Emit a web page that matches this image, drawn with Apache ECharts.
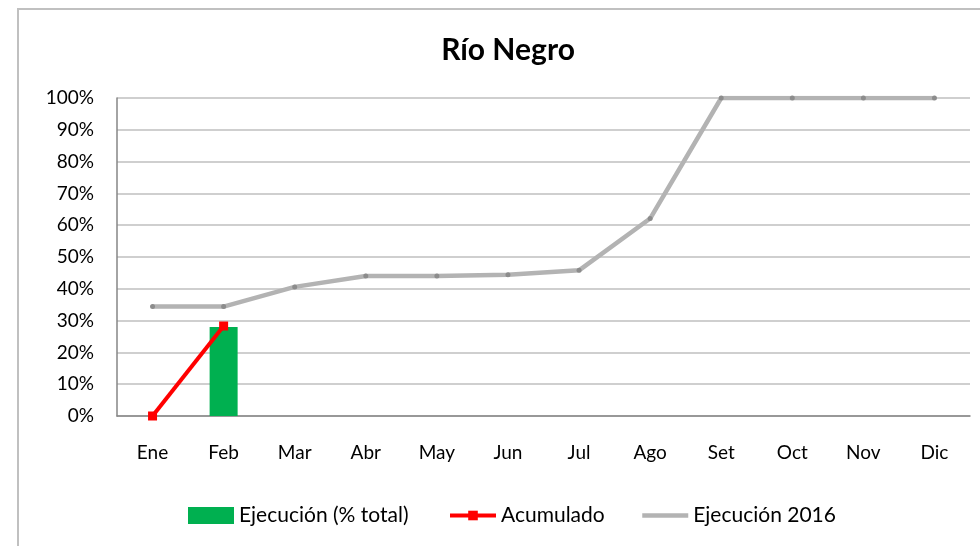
<!DOCTYPE html>
<html>
<head>
<meta charset="utf-8">
<script src="https://cdn.jsdelivr.net/npm/echarts@6/dist/echarts.min.js"></script>
<style>html,body{margin:0;padding:0;background:#fff}#c{width:980px;height:546px}</style>
</head>
<body>
<div id="c"></div>
<script>
var months = ['Ene','Feb','Mar','Abr','May','Jun','Jul','Ago','Set','Oct','Nov','Dic'];
var ejecucion = [null, 28.0, null, null, null, null, null, null, null, null, null, null];
var acumulado = [0, 28.3, null, null, null, null, null, null, null, null, null, null];
var ejecucion2016 = [34.4, 34.4, 40.6, 44.0, 44.0, 44.4, 45.8, 62.1, 100, 100, 100, 100];
var yTicks = [0, 10, 20, 30, 40, 50, 60, 70, 80, 90, 100];

var FONT = 'Lato';
var chart = echarts.init(document.getElementById('c'), null, {renderer: 'canvas'});
var legendText = {fontFamily: FONT, fontSize: 21, color: '#000'};
chart.setOption({
  animation: false,
  graphic: [
    {type: 'rect', shape: {x: 18, y: 9, width: 1000, height: 600}, style: {fill: 'none', stroke: '#c0c0c0', lineWidth: 2}, silent: true},
    {type: 'text', style: {text: 'Río Negro', x: 508, y: 50, textAlign: 'center', textVerticalAlign: 'middle', fontFamily: FONT, fontWeight: 'bold', fontSize: 30, fill: '#000'}}
  ],
  grid: {left: 117, right: 10, top: 98, bottom: 130},
  legend: [
    {data: ['Ejecución (% total)'], left: 188, top: 505, padding: 0, itemWidth: 46, itemHeight: 17, icon: 'rect', textStyle: legendText},
    {data: ['Acumulado'], left: 448, top: 505, padding: 0, itemWidth: 46, itemHeight: 12, lineStyle: {width: 4}, textStyle: legendText},
    {data: [{name: 'Ejecución 2016', itemStyle: {opacity: 0}}], left: 640, top: 505, padding: 0, itemWidth: 46, itemHeight: 12, lineStyle: {width: 4.5}, textStyle: legendText}
  ],
  xAxis: {
    type: 'category', data: months,
    axisLine: {lineStyle: {color: '#868686', width: 1.5}},
    axisTick: {show: false},
    axisLabel: {fontFamily: FONT, fontSize: 19, color: '#000', margin: 27}
  },
  yAxis: {
    type: 'value', min: 0, max: 100, interval: 10,
    axisLine: {show: true, lineStyle: {color: '#868686', width: 1.5}},
    axisTick: {show: false},
    splitLine: {lineStyle: {color: '#bfbfbf', width: 1.5}},
    axisLabel: {fontFamily: FONT, fontSize: 19, color: '#000', margin: 23, formatter: '{value}%'}
  },
  series: [
    {name: 'Ejecución 2016', type: 'line', data: ejecucion2016, z: 2,
     lineStyle: {color: '#b3b3b3', width: 4.5}, itemStyle: {color: '#8c8c8c'},
     symbol: 'circle', symbolSize: 5, showSymbol: true},
    {name: 'Ejecución (% total)', type: 'bar', data: ejecucion, barWidth: 28, z: 3,
     itemStyle: {color: '#00b050'}},
    {name: 'Acumulado', type: 'line', data: acumulado, z: 4,
     lineStyle: {color: '#ff0000', width: 4}, itemStyle: {color: '#ff0000'},
     symbol: 'rect', symbolSize: 9, showSymbol: true}
  ]
});
</script>
</body>
</html>
